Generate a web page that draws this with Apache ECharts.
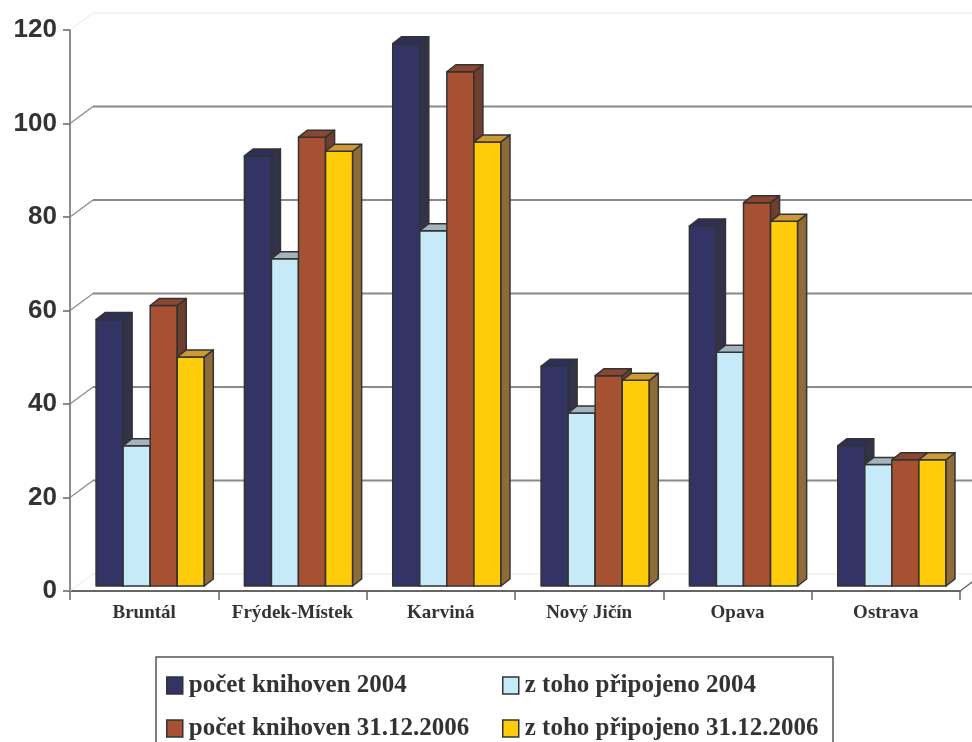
<!DOCTYPE html>
<html>
<head>
<meta charset="utf-8">
<script src="https://cdn.jsdelivr.net/npm/echarts@6/dist/echarts.min.js"></script>
<style>html,body{margin:0;padding:0;background:#fff}#c{width:972px;height:742px}</style>
</head>
<body>
<div id="c"></div>
<script>
const categories = ['Bruntál', 'Frýdek-Místek', 'Karviná', 'Nový Jičín', 'Opava', 'Ostrava'];
const seriesNames = ['počet knihoven 2004', 'z toho připojeno 2004', 'počet knihoven 31.12.2006', 'z toho připojeno 31.12.2006'];
const pocet2004 = [57, 92, 116, 47, 77, 30];
const pripojeno2004 = [30, 70, 76, 37, 50, 26];
const pocet2006 = [60, 96, 110, 45, 82, 27];
const pripojeno2006 = [49, 93, 95, 44, 78, 27];
const yTicks = [0, 20, 40, 60, 80, 100, 120];

const seriesValues = [pocet2004, pripojeno2004, pocet2006, pripojeno2006];
const palette = [
  { front: '#333366', side: '#32324a', top: '#2e2e58' },
  { front: '#c6eaf8', side: '#8fb0c0', top: '#a3b5bc' },
  { front: '#a65232', side: '#6e3e30', top: '#8b4632' },
  { front: '#fecc08', side: '#8f6b38', top: '#cc9933' }
];

const DEPTH_X = 23, DEPTH_Y = -17;   // wall depth
const BAR_DX = 9, BAR_DY = -7;       // bar depth
const BAR_SHIFT_Y = -5;

function barRenderer(sIdx) {
  return function (params, api) {
    const i = api.value(0), v = api.value(1);
    const base = api.coord([i, 0]);
    const topP = api.coord([i, v]);
    const band = api.size([1, 0])[0];
    const w = band * 27 / 148;
    const x = base[0] - band / 2 + band * 26 / 148 + sIdx * w;
    const yb = base[1] + BAR_SHIFT_Y;
    const yt = topP[1] + BAR_SHIFT_Y;
    const c = palette[sIdx];
    const stroke = { stroke: '#333', lineWidth: 1.5, lineJoin: 'round' };
    return {
      type: 'group',
      children: [
        { type: 'rect', shape: { x: x, y: yt, width: w, height: yb - yt },
          style: Object.assign({ fill: c.front }, stroke) },
        { type: 'polygon', shape: { points: [[x + w, yt], [x + w + BAR_DX, yt + BAR_DY], [x + w + BAR_DX, yb + BAR_DY], [x + w, yb]] },
          style: Object.assign({ fill: c.side }, stroke) },
        { type: 'polygon', shape: { points: [[x, yt], [x + BAR_DX, yt + BAR_DY], [x + w + BAR_DX, yt + BAR_DY], [x + w, yt]] },
          style: Object.assign({ fill: c.top }, stroke) }
      ]
    };
  };
}

function wallRenderer(params, api) {
  const idx = params.dataIndex;
  const v = api.value(1);
  const cs = params.coordSys;
  const y = api.coord([0, v])[1];
  const x0 = cs.x, x1 = cs.x + cs.width;
  const edge = (idx === 0 || idx === yTicks.length - 1);
  const col = edge ? '#e6e6e6' : '#8a8a8a';
  const children = [
    { type: 'line', shape: { x1: x0, y1: y, x2: x0 + DEPTH_X, y2: y + DEPTH_Y }, style: { stroke: col, lineWidth: edge ? 1 : 1.2 } },
    { type: 'line', shape: { x1: x0 + DEPTH_X, y1: y + DEPTH_Y, x2: x1 + DEPTH_X, y2: y + DEPTH_Y }, style: { stroke: col, lineWidth: edge ? 1 : 2 } }
  ];
  if (idx === 0) {
    children.push({ type: 'line', shape: { x1: x1, y1: y, x2: x1 + DEPTH_X, y2: y + DEPTH_Y }, style: { stroke: '#666', lineWidth: 1.5 } });
  }
  return { type: 'group', children: children };
}

const series = [{
  type: 'custom',
  name: 'wall',
  z: 1,
  silent: true,
  renderItem: wallRenderer,
  data: yTicks.map(v => [0, v]),
  encode: { x: 0, y: 1 }
}];
seriesValues.forEach((vals, s) => {
  series.push({
    type: 'custom',
    name: seriesNames[s],
    z: 2 + s,
    itemStyle: { color: palette[s].front },
    renderItem: barRenderer(s),
    data: vals.map((v, i) => [i, v]),
    encode: { x: 0, y: 1 }
  });
});

const legendPos = [[166, 673], [502, 673], [166, 716], [502, 716]];
const legends = seriesNames.map((n, s) => ({
  show: true,
  left: legendPos[s][0],
  top: legendPos[s][1],
  padding: 0,
  orient: 'horizontal',
  selectedMode: false,
  icon: 'rect',
  itemWidth: 16,
  itemHeight: 17,
  itemGap: 0,
  itemStyle: { borderColor: '#333', borderWidth: 1.5 },
  textStyle: { fontFamily: 'Liberation Serif', fontWeight: 'bold', fontSize: 25, color: '#333', padding: [0, 0, 0, 1] },
  data: [{ name: n, itemStyle: { color: palette[s].front, borderColor: '#333', borderWidth: 1.5 } }]
}));

const chart = echarts.init(document.getElementById('c'), null, { renderer: 'canvas' });
chart.setOption({
  animation: false,
  backgroundColor: '#fff',
  grid: { left: 70, right: 12, top: 30, bottom: 151, containLabel: false, outerBoundsMode: 'none' },
  xAxis: {
    type: 'category',
    data: categories,
    boundaryGap: true,
    axisLine: { show: true, lineStyle: { color: '#666', width: 2 } },
    axisTick: { show: true, interval: 0, length: 9, lineStyle: { color: '#666', width: 1.5 } },
    axisLabel: { interval: 0, margin: 13, fontFamily: 'Liberation Serif', fontWeight: 'bold', fontSize: 19, color: '#333' },
    splitLine: { show: false }
  },
  yAxis: {
    type: 'value',
    min: 0,
    max: 120,
    interval: 20,
    axisLine: { show: true, lineStyle: { color: '#666', width: 1.5 } },
    axisTick: { show: true, length: 7, lineStyle: { color: '#666', width: 1.5 } },
    axisLabel: { margin: 13, fontFamily: 'Liberation Sans', fontWeight: 'bold', fontSize: 26, color: '#333' },
    splitLine: { show: false }
  },
  legend: legends,
  graphic: [{
    type: 'rect',
    shape: { x: 156, y: 657, width: 677, height: 110 },
    style: { fill: 'none', stroke: '#555', lineWidth: 1.5 },
    silent: true
  }],
  series: series
});
</script>
</body>
</html>
